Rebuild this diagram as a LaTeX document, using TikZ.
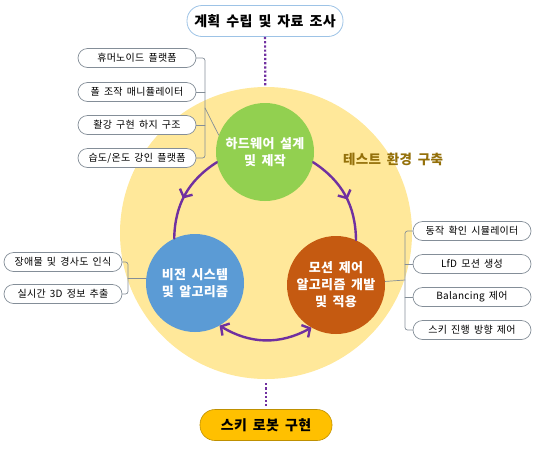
\documentclass[tikz,border=0pt]{standalone}
\usepackage{fontspec}
\setmainfont{Noto Sans CJK KR}[WordSpace=1.7,LetterSpace=2.5]
\usetikzlibrary{arrows.meta,decorations.markings}
\definecolor{ringyellow}{HTML}{FFE89A}
\definecolor{hwgreen}{HTML}{92D050}
\definecolor{visblue}{HTML}{5B9BD5}
\definecolor{motorange}{HTML}{C55A11}
\definecolor{cyclepurple}{HTML}{7030A0}
\definecolor{testgold}{HTML}{94700A}
\definecolor{robotgold}{HTML}{FFC000}
\definecolor{pillgray}{HTML}{848E98}
\definecolor{planblue}{HTML}{9DC3E6}
\begin{document}
\begin{tikzpicture}[x=1pt,y=-1pt,line join=round,line cap=round,
    pill/.style={draw=pillgray,fill=white,line width=0.7pt,rounded corners=9.5pt,minimum width=118pt,minimum height=19pt,inner sep=0pt,font=\fontsize{10}{12}\selectfont},
    branch/.style={draw=pillgray,line width=0.7pt,rounded corners=2.5pt},
    ball/.style={circle,minimum size=98pt,inner sep=0pt,text=white,align=center,font=\bfseries\fontsize{13}{17}\selectfont},
    headbox/.style={rounded corners=15pt,minimum height=31pt,inner sep=0pt,font=\bfseries\fontsize{14}{16}\selectfont},
    barb/.tip={Straight Barb[length=6pt,width=14pt]},
    cycline/.style={draw=cyclepurple,line width=2.4pt},
    midarrow/.style={cycline,postaction={decorate},decoration={markings,mark=at position 0.55 with {\arrow{barb}}}},
    dotline/.style={draw=cyclepurple,line width=2.2pt,line cap=butt,dash pattern=on 2.2pt off 2pt}]
  \useasboundingbox (0,0) rectangle (540,448);
  \node[circle,fill=ringyellow,minimum size=292pt,inner sep=0pt] (env) at (266,233) {};
  \node[text=testgold,font=\bfseries\fontsize{13.5}{16}\selectfont] (test) at (393,159) {테스트 환경 구축};

  \node[headbox,draw=planblue,fill=white,line width=0.8pt,minimum width=156pt] (plan) at (265,21) {계획 수립 및 자료 조사};
  \node[headbox,draw=robotgold!75!black,fill=robotgold,line width=0.6pt,minimum width=132pt] (robot) at (266,425) {스키 로봇 구현};
  \draw[dotline] (plan) -- (env);
  \draw[dotline,shorten <=4pt,shorten >=3pt] (env) -- (robot);

  \node[pill] (hw1) at (137,58) {휴머노이드 플랫폼};
  \node[pill] (hw2) at (137,92) {폴 조작 매니퓰레이터};
  \node[pill] (hw3) at (137,125) {활강 구현 하지 구조};
  \node[pill] (hw4) at (137,158) {습도/온도 강인 플랫폼};
  \node[pill] (v1) at (63,262) {장애물 및 경사도 인식};
  \node[pill] (v2) at (63,294) {실시간 3D 정보 추출};
  \node[pill] (m1) at (472,231) {동작 확인 시뮬레이터};
  \node[pill] (m2) at (472,264) {LfD 모션 생성};
  \node[pill] (m3) at (472,297) {Balancing 제어};
  \node[pill] (m4) at (472,330) {스키 진행 방향 제어};

  \coordinate (hwj) at (205,108);
  \coordinate (vj) at (128,278);
  \coordinate (mj) at (405,280);
  \draw[branch] (hw1.east) -| (hwj) |- (hw4.east);
  \draw[branch] (hw2.east) -- (hw2.east -| hwj);
  \draw[branch] (hw3.east) -- (hw3.east -| hwj);
  \draw[branch] (v1.east) -| (vj) |- (v2.east);
  \draw[branch] (m1.west) -| (mj) |- (m4.west);
  \draw[branch] (m2.west) -- (m2.west -| mj);
  \draw[branch] (m3.west) -- (m3.west -| mj);

  \node[ball,fill=hwgreen] (hw) at (265,152) {하드웨어 설계\\및 제작};
  \node[ball,fill=visblue] (vision) at (195,283) {비전 시스템\\및 알고리즘};
  \node[ball,fill=motorange] (motion) at (336,285) {모션 제어\\알고리즘 개발\\및 적용};

  \draw[branch] (hwj) -- (hw.160);
  \draw[branch] (vj) -- (vj -| vision.west);
  \draw[branch] (mj) -- (motion);

  \draw[midarrow] (hw.192) to[bend right=28] (vision.115);
  \draw[midarrow] (hw.-12) to[bend left=28] (motion.66);
  \draw[cycline,barb-barb] (vision.-60) to[bend right=30] (motion.-120);
\end{tikzpicture}
\end{document}
